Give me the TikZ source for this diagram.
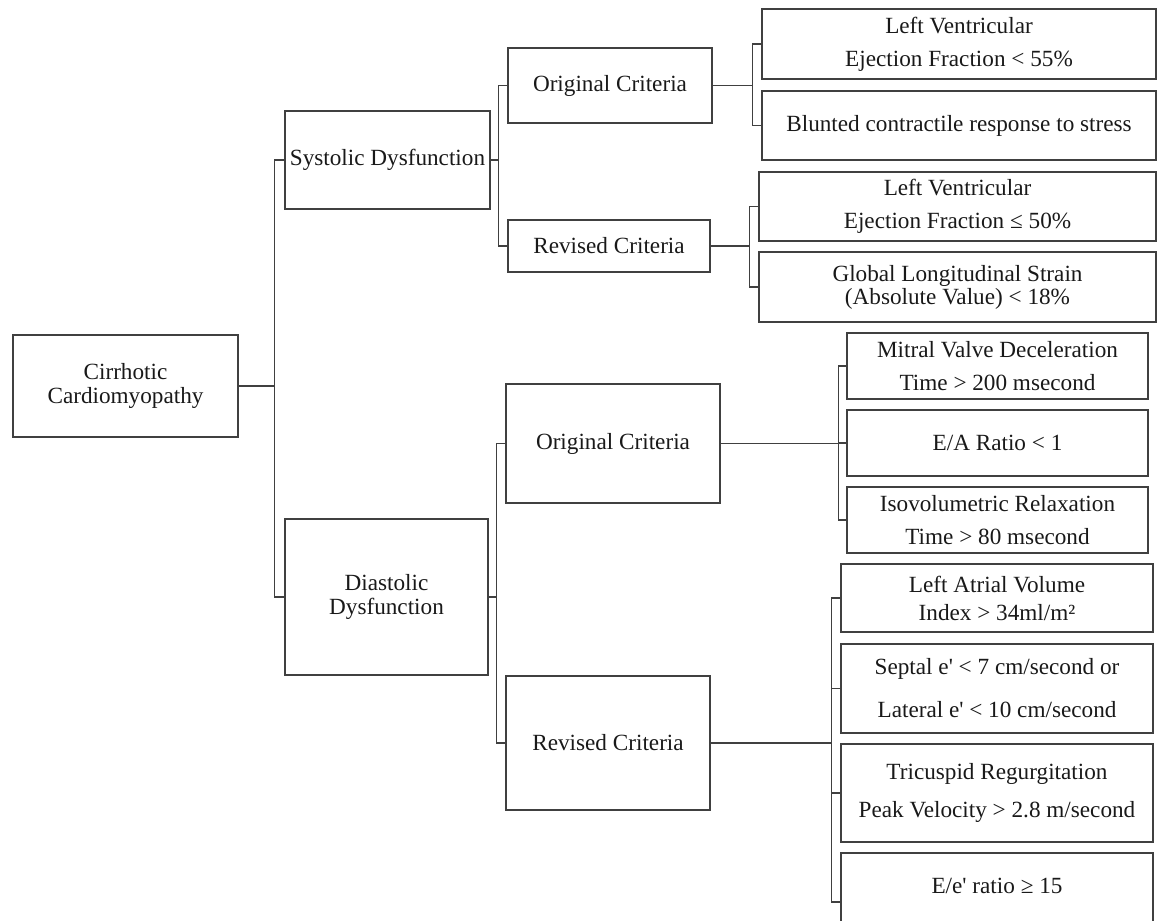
\documentclass[tikz,border=0pt]{standalone}
\usepackage{fontspec}
\setmainfont{Liberation Serif}
\begin{document}
\begin{tikzpicture}[x=1pt,y=-1pt,
  box/.style={draw=black!75, line width=1.3pt, inner sep=0pt, align=center,
    font=\fontsize{23.2}{24}\selectfont, text=black!90},
  conn/.style={draw=black!75, line width=1.3pt}]
\useasboundingbox (0,0) rectangle (1157,921);
\clip (0,0) rectangle (1157,921);
% level 0
\node[box, minimum width=225, minimum height=102] (root) at (125.5,386) {Cirrhotic\\Cardiomyopathy};
% level 1
\node[box, minimum width=205, minimum height=98] (sys) at (387.5,160) {Systolic Dysfunction};
\node[box, minimum width=203, minimum height=156] (dia) at (386.5,597) {Diastolic\\Dysfunction};
% level 2
\node[box, minimum width=204, minimum height=75] (so) at (610,85.5) {Original Criteria};
\node[box, minimum width=202, minimum height=52] (sr) at (609,246) {Revised Criteria};
\node[box, minimum width=214, minimum height=119] (do) at (613,443.5) {Original Criteria};
\node[box, minimum width=204, minimum height=134] (dr) at (608,743) {Revised Criteria};
% leaves: systolic
\node[box, minimum width=394, minimum height=70] (lva) at (959,44) {Left Ventricular\\[9pt]Ejection Fraction < 55\%};
\node[box, minimum width=394, minimum height=69] (blu) at (959,125.5) {Blunted contractile response to stress};
\node[box, minimum width=397, minimum height=69] (lvb) at (957.5,206.5) {Left Ventricular\\[9pt]Ejection Fraction ≤ 50\%};
\node[box, minimum width=397, minimum height=70] (gls) at (957.5,287) {Global Longitudinal Strain\\[-1pt](Absolute Value) < 18\%};
% leaves: diastolic original
\node[box, minimum width=301, minimum height=66] (mvd) at (997.5,366) {Mitral Valve Deceleration\\[9pt]Time > 200 msecond};
\node[box, minimum width=301, minimum height=66] (ear) at (997.5,443) {E/A Ratio < 1};
\node[box, minimum width=301, minimum height=66] (iso) at (997.5,520) {Isovolumetric Relaxation\\[9pt]Time > 80 msecond};
% leaves: diastolic revised
\node[box, minimum width=312, minimum height=68] (lav) at (997,598) {Left Atrial Volume\\[4pt]Index > 34ml/m²};
\node[box, minimum width=312, minimum height=89] (sep) at (997,688.5) {Septal e\textquotesingle{} < 7 cm/second or\\[19pt]Lateral e\textquotesingle{} < 10 cm/second};
\node[box, minimum width=312, minimum height=98] (tri) at (997,793) {Tricuspid Regurgitation\\[14pt]Peak Velocity > 2.8 m/second};
\node[box, minimum width=312, minimum height=98] (ee) at (997,902) {E/e\textquotesingle{} ratio ≥ 15\\[8pt]\mbox{}};
% connectors
\coordinate (trunk) at (275,0);
\draw[conn] (root.east) -- (root.east -| trunk);
\draw[conn] (sys.west) -- +(-10,0) |- (dia.west);
\coordinate (b1) at (499,0);
\draw[conn] (sys.east) -- (sys.east -| b1);
\draw[conn] (so.west) -- +(-9,0) |- (sr.west);
\coordinate (b2) at (497,0);
\draw[conn] (dia.east) -- (dia.east -| b2);
\draw[conn] (do.west) -- +(-9,0) |- (dr.west);
\coordinate (b3) at (753,0);
\draw[conn] (so.east) -- (so.east -| b3);
\draw[conn] (lva.west) -- +(-9,0) |- (blu.west);
\coordinate (b4) at (750,0);
\draw[conn] (sr.east) -- (sr.east -| b4);
\draw[conn] (lvb.west) -- +(-9,0) |- (gls.west);
\coordinate (b5) at (839,0);
\draw[conn] (do.east) -- (do.east -| b5);
\draw[conn] (mvd.west) -- +(-8,0) |- (iso.west);
\draw[conn] (ear.west) -- +(-8,0);
\coordinate (b6) at (832,0);
\draw[conn] (dr.east) -- (dr.east -| b6);
\draw[conn] (lav.west) -- +(-9,0) |- (ee.west);
\draw[conn] (sep.west) -- +(-9,0);
\draw[conn] (tri.west) -- +(-9,0);
\end{tikzpicture}
\end{document}
